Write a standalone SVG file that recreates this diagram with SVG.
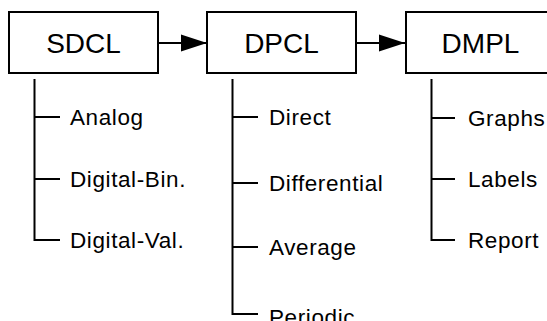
<svg xmlns="http://www.w3.org/2000/svg" width="547" height="321" viewBox="0 0 547 321">
<defs>
<style>
.box{fill:#fff;stroke:#000;stroke-width:2}
.ln{fill:none;stroke:#000;stroke-width:2}
.big{font-family:"Liberation Sans",Arial,sans-serif;font-size:28px;fill:#000;text-anchor:middle}
.sm{font-family:"Liberation Sans",Arial,sans-serif;font-size:22.5px;fill:#000;letter-spacing:0.6px}
</style>
<marker id="ah" markerWidth="26" markerHeight="18" refX="26" refY="9" markerUnits="userSpaceOnUse" orient="auto">
<path d="M0,0.5 L26,9 L0,17.5 Z" fill="#000"/>
</marker>
</defs>
<g id="connectors">
<line class="ln" x1="158" y1="43" x2="207" y2="43" marker-end="url(#ah)"/>
<line class="ln" x1="357" y1="43" x2="405" y2="43" marker-end="url(#ah)"/>
<path class="ln" d="M34.5,79 V240 H60 M34.5,117 H60 M34.5,179 H60"/>
<path class="ln" d="M232.5,79 V314 H258 M232.5,117 H258 M232.5,183 H258 M232.5,247 H258"/>
<path class="ln" d="M431.5,79 V240 H455 M431.5,118 H455 M431.5,179 H455"/>
</g>
<g id="sdcl">
<rect class="box" x="9" y="12" width="149" height="61"/>
<text class="big" x="83.5" y="53">SDCL</text>
</g>
<g id="dpcl">
<rect class="box" x="207" y="12" width="149" height="61"/>
<text class="big" x="281.5" y="53">DPCL</text>
</g>
<g id="dmpl">
<rect class="box" x="406" y="12" width="149" height="61"/>
<text class="big" x="480.5" y="53">DMPL</text>
</g>
<g id="sdcl-items">
<text class="sm" x="70" y="124.5">Analog</text>
<text class="sm" x="70" y="186.5">Digital-Bin.</text>
<text class="sm" x="70" y="247.5">Digital-Val.</text>
</g>
<g id="dpcl-items">
<text class="sm" x="269" y="124.5">Direct</text>
<text class="sm" x="269" y="190.5">Differential</text>
<text class="sm" x="269" y="254.5">Average</text>
<text class="sm" x="269" y="325">Periodic</text>
</g>
<g id="dmpl-items">
<text class="sm" x="468" y="125.5">Graphs</text>
<text class="sm" x="468" y="186.5">Labels</text>
<text class="sm" x="468" y="247.5">Report</text>
</g>
</svg>
